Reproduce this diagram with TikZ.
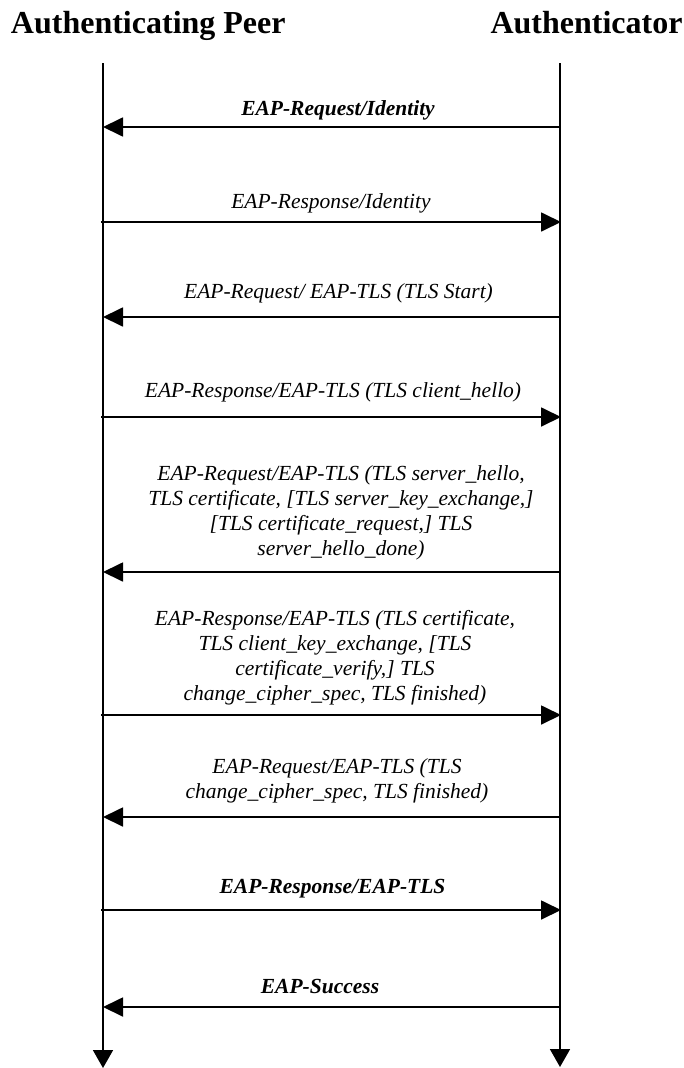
\documentclass[tikz,border=0pt]{standalone}
\usepackage{fontspec}
\setmainfont{Liberation Serif}
\usetikzlibrary{arrows.meta}
\begin{document}
\begin{tikzpicture}[x=1pt,y=-1pt,
  lifeline/.style={line width=1.8pt, -{Triangle[length=18pt,width=20pt]}},
  msg/.style={line width=1.8pt, -{Triangle[length=20pt,width=19pt]}},
  hdr/.style={font=\fontsize{32}{36}\selectfont\bfseries, anchor=base, inner sep=0},
  lbl/.style={font=\fontsize{21.5}{25}\selectfont\itshape, anchor=base, inner sep=0, align=center},
  blbl/.style={font=\fontsize{21.5}{25}\selectfont\bfseries\itshape, anchor=base, inner sep=0, align=center}]
\useasboundingbox (0,0) rectangle (683,1068);

% headers
\node[hdr] (peer) at (148.3,33) {Authenticating Peer};
\node[hdr] (auth) at (586.5,33) {Authenticator};

% lifelines
\coordinate (Ltop) at (103,63);
\coordinate (Lbot) at (103,1068);
\coordinate (Rtop) at (560,63);
\coordinate (Rbot) at (560,1067);
\draw[lifeline] (Ltop) -- (Lbot);
\draw[lifeline] (Rtop) -- (Rbot);

% message end points
\coordinate (l1) at (103,127);   \coordinate (r1) at (560,127);
\coordinate (l2) at (101,222);   \coordinate (r2) at (561,222);
\coordinate (l3) at (103,317);   \coordinate (r3) at (560,317);
\coordinate (l4) at (101,417);   \coordinate (r4) at (561,417);
\coordinate (l5) at (103,572);   \coordinate (r5) at (560,572);
\coordinate (l6) at (101,715);   \coordinate (r6) at (561,715);
\coordinate (l7) at (103,817);   \coordinate (r7) at (560,817);
\coordinate (l8) at (101,910);   \coordinate (r8) at (561,910);
\coordinate (l9) at (103,1007);  \coordinate (r9) at (560,1007);

% messages
\draw[msg] (r1) -- (l1);
\draw[msg] (l2) -- (r2);
\draw[msg] (r3) -- (l3);
\draw[msg] (l4) -- (r4);
\draw[msg] (r5) -- (l5);
\draw[msg] (l6) -- (r6);
\draw[msg] (r7) -- (l7);
\draw[msg] (l8) -- (r8);
\draw[msg] (r9) -- (l9);

% labels (anchor base = baseline of the last line)
\node[blbl] (m1) at (338,115) {EAP-Request/Identity};
\node[lbl]  (m2) at (331,208) {EAP-Response/Identity};
\node[lbl]  (m3) at (338.5,298.5) {EAP-Request/ EAP-TLS (TLS Start)};
\node[lbl]  (m4) at (333,397) {EAP-Response/EAP-TLS (TLS client\_hello)};
\node[lbl]  (m5) at (341,555.5) {EAP-Request/EAP-TLS (TLS server\_hello,\\
  TLS certificate, {[}TLS server\_key\_exchange,{]}\\
  {[}TLS certificate\_request,{]} TLS\\
  server\_hello\_done)};
\node[lbl]  (m6) at (335,700.5) {EAP-Response/EAP-TLS (TLS certificate,\\
  TLS client\_key\_exchange, {[}TLS\\
  certificate\_verify,{]} TLS\\
  change\_cipher\_spec, TLS finished)};
\node[lbl]  (m7) at (337,798.5) {EAP-Request/EAP-TLS (TLS\\
  change\_cipher\_spec, TLS finished)};
\node[blbl] (m8) at (332.5,893.5) {EAP-Response/EAP-TLS};
\node[blbl] (m9) at (320,993) {EAP-Success};
\end{tikzpicture}
\end{document}
